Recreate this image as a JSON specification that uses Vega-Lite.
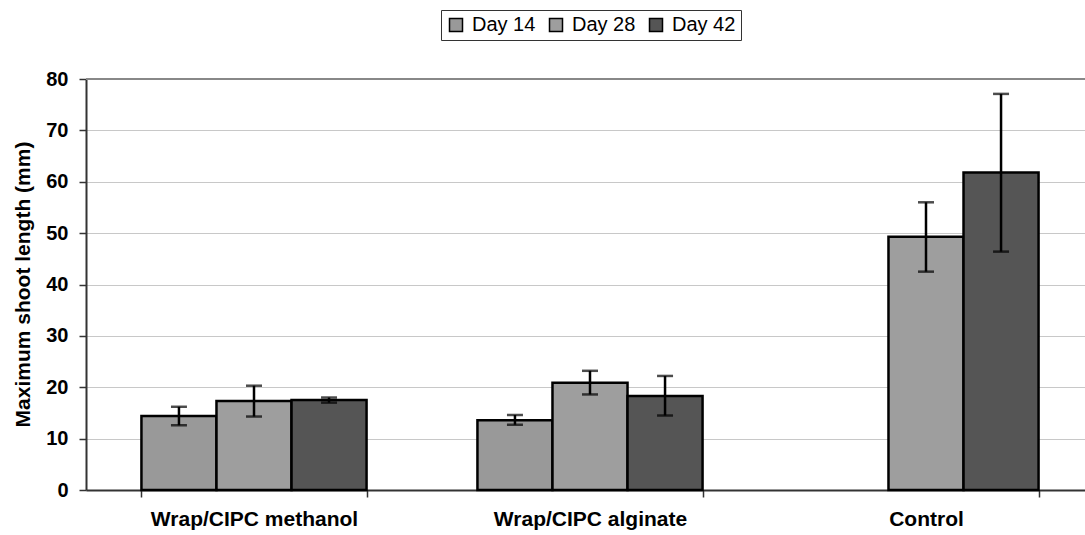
{
  "$schema": "https://vega.github.io/schema/vega-lite/v6.json",
  "width": 999,
  "height": 411,
  "autosize": "none",
  "padding": {"left": 86, "top": 79, "right": 0, "bottom": 45},
  "background": "white",
  "config": {"view": {"stroke": null}, "font": "Liberation Sans"},
  "data": {
    "values": [
      {"group": "Wrap/CIPC methanol", "day": "Day 14", "value": 14.4, "lo": 12.6, "hi": 16.2},
      {"group": "Wrap/CIPC methanol", "day": "Day 28", "value": 17.3, "lo": 14.3, "hi": 20.3},
      {"group": "Wrap/CIPC methanol", "day": "Day 42", "value": 17.5, "lo": 17.0, "hi": 18.0},
      {"group": "Wrap/CIPC alginate", "day": "Day 14", "value": 13.6, "lo": 12.7, "hi": 14.6},
      {"group": "Wrap/CIPC alginate", "day": "Day 28", "value": 20.9, "lo": 18.6, "hi": 23.2},
      {"group": "Wrap/CIPC alginate", "day": "Day 42", "value": 18.3, "lo": 14.5, "hi": 22.2},
      {"group": "Control", "day": "Day 28", "value": 49.3, "lo": 42.5, "hi": 56.0},
      {"group": "Control", "day": "Day 42", "value": 61.8, "lo": 46.4, "hi": 77.1}
    ]
  },
  "layer": [
    {
      "mark": {"type": "bar", "stroke": "black", "strokeWidth": 2.5},
      "encoding": {
        "x": {
          "field": "group", "type": "nominal",
          "sort": ["Wrap/CIPC methanol", "Wrap/CIPC alginate", "Control"],
          "scale": {"range": [0, 1008], "paddingInner": 0.33, "paddingOuter": 0.165},
          "axis": {
            "title": null, "labelAngle": 0, "tickBand": "extent", "labelLimit": 0,
            "domainColor": "#333333", "domainWidth": 2,
            "tickColor": "#333333", "tickSize": 7, "tickWidth": 1.5,
            "labelFont": "Liberation Sans", "labelFontSize": 21, "labelFontWeight": "bold",
            "labelColor": "black", "labelPadding": 11, "grid": false
          }
        },
        "xOffset": {
          "field": "day", "type": "nominal",
          "scale": {"domain": ["Day 14", "Day 28", "Day 42"], "paddingInner": 0, "paddingOuter": 0}
        },
        "y": {
          "field": "value", "type": "quantitative",
          "scale": {"domain": [0, 80], "nice": false},
          "axis": {
            "values": [0, 10, 20, 30, 40, 50, 60, 70, 80],
            "grid": true, "gridColor": "#c8c8c8", "gridWidth": 1,
            "domainColor": "#333333", "domainWidth": 2,
            "tickColor": "#333333", "tickSize": 7, "tickWidth": 1.5,
            "labelFont": "Liberation Sans", "labelFontSize": 20, "labelFontWeight": "bold",
            "labelColor": "black", "labelPadding": 11,
            "title": "Maximum shoot length (mm)",
            "titleFont": "Liberation Sans", "titleFontSize": 21, "titleFontWeight": "bold",
            "titleColor": "black", "titleX": -63, "titleY": 205, "titleAlign": "center",
            "titleBaseline": "middle", "titleAngle": -90
          }
        },
        "color": {
          "field": "day", "type": "nominal",
          "scale": {"domain": ["Day 14", "Day 28", "Day 42"], "range": ["#999999", "#9e9e9e", "#555555"]},
          "legend": {
            "orient": "none", "legendX": 355, "legendY": -69, "direction": "horizontal",
            "title": null, "symbolType": "square", "symbolSize": 169,
            "symbolStrokeColor": "black", "symbolStrokeWidth": 1.5, "symbolOpacity": 1,
            "labelFont": "Liberation Sans", "labelFontSize": 20, "labelColor": "black",
            "labelOffset": 6, "columnPadding": 10, "padding": 5,
            "strokeColor": "#333333", "fillColor": "white"
          }
        }
      }
    },
    {
      "mark": {"type": "rule", "color": "black", "strokeWidth": 2.5},
      "encoding": {
        "x": {"field": "group", "type": "nominal", "sort": ["Wrap/CIPC methanol", "Wrap/CIPC alginate", "Control"]},
        "xOffset": {"field": "day", "type": "nominal"},
        "y": {"field": "lo", "type": "quantitative"},
        "y2": {"field": "hi"}
      }
    },
    {
      "mark": {"type": "tick", "color": "black", "thickness": 2.5, "size": 16, "orient": "horizontal"},
      "encoding": {
        "x": {"field": "group", "type": "nominal", "sort": ["Wrap/CIPC methanol", "Wrap/CIPC alginate", "Control"]},
        "xOffset": {"field": "day", "type": "nominal"},
        "y": {"field": "lo", "type": "quantitative"}
      }
    },
    {
      "mark": {"type": "tick", "color": "black", "thickness": 2.5, "size": 16, "orient": "horizontal"},
      "encoding": {
        "x": {"field": "group", "type": "nominal", "sort": ["Wrap/CIPC methanol", "Wrap/CIPC alginate", "Control"]},
        "xOffset": {"field": "day", "type": "nominal"},
        "y": {"field": "hi", "type": "quantitative"}
      }
    },
    {
      "mark": {"type": "rule", "color": "#888888", "strokeWidth": 2},
      "encoding": {"y": {"datum": 80}}
    }
  ]
}
